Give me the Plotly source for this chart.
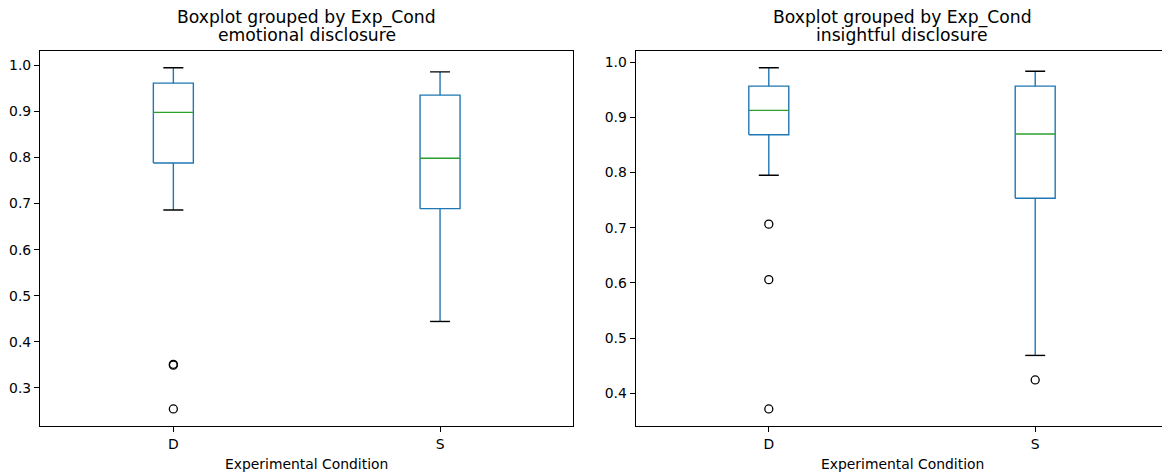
import plotly.graph_objects as go

# ---- data ----
categories = ["D", "S"]

emo_q1 = [0.788, 0.689]
emo_median = [0.898, 0.7985]
emo_q3 = [0.9615, 0.9355]
emo_low = [0.686, 0.444]
emo_high = [0.995, 0.986]
emo_outliers = [[0.351, 0.349, 0.254], []]

ins_q1 = [0.8687, 0.7535]
ins_median = [0.9128, 0.870]
ins_q3 = [0.9567, 0.9567]
ins_low = [0.7953, 0.4687]
ins_high = [0.990, 0.9837]
ins_outliers = [[0.7066, 0.606, 0.3717], [0.4243]]

panel_titles = ["emotional disclosure", "insightful disclosure"]
suptitle = "Boxplot grouped by Exp_Cond"
xlabel = "Experimental Condition"

# ---- style ----
W, H = 1162, 476
FONT = "DejaVu Sans"
BLUE = "#1f77b4"
GREEN = "#2ca02c"
BLACK = "#000000"
BOX_HALF = 0.075
CAP_HALF = 0.0375
LW = 1.4

fig = go.Figure()


def add_panel(xa, ya, q1, med, q3, lo, hi, outs):
    bx, by, wx, wy, cx, cy, mx, my, ox, oy = ([] for _ in range(10))
    for i, _ in enumerate(categories):
        p = i + 1
        bx += [p - BOX_HALF, p + BOX_HALF, p + BOX_HALF, p - BOX_HALF, p - BOX_HALF, None]
        by += [q1[i], q1[i], q3[i], q3[i], q1[i], None]
        wx += [p, p, None, p, p, None]
        wy += [q1[i], lo[i], None, q3[i], hi[i], None]
        cx += [p - CAP_HALF, p + CAP_HALF, None, p - CAP_HALF, p + CAP_HALF, None]
        cy += [lo[i], lo[i], None, hi[i], hi[i], None]
        mx += [p - BOX_HALF, p + BOX_HALF, None]
        my += [med[i], med[i], None]
        for v in outs[i]:
            ox.append(p)
            oy.append(v)
    common = dict(xaxis=xa, yaxis=ya, showlegend=False, hoverinfo="skip")
    fig.add_trace(go.Scatter(x=wx, y=wy, mode="lines", line=dict(color=BLUE, width=LW), **common))
    fig.add_trace(go.Scatter(x=bx, y=by, mode="lines", line=dict(color=BLUE, width=LW), **common))
    fig.add_trace(go.Scatter(x=cx, y=cy, mode="lines", line=dict(color=BLACK, width=LW), **common))
    fig.add_trace(go.Scatter(x=mx, y=my, mode="lines", line=dict(color=GREEN, width=LW), **common))
    fig.add_trace(go.Scatter(x=ox, y=oy, mode="markers",
                             marker=dict(symbol="circle-open", size=8, color=BLACK,
                                         line=dict(color=BLACK, width=1.3)), **common))


add_panel("x", "y", emo_q1, emo_median, emo_q3, emo_low, emo_high, emo_outliers)
add_panel("x2", "y2", ins_q1, ins_median, ins_q3, ins_low, ins_high, ins_outliers)

# geometry in pixels
L1, R1 = 40.0, 573.4
L2 = 635.6
px_per_unit2 = 266.4
TOP, BOT = 50.7, 426.0
ydom = [1 - BOT / H, 1 - TOP / H]

tickfont = dict(family=FONT, size=13.9, color="#000000")
axcommon = dict(showgrid=False, zeroline=False, showline=True, linecolor=BLACK, linewidth=1.1,
                ticks="outside", ticklen=5, tickwidth=1.1, tickcolor=BLACK, tickfont=tickfont)

fig.update_layout(
    width=W, height=H,
    margin=dict(l=0, r=0, t=0, b=0),
    paper_bgcolor="white", plot_bgcolor="white",
    font=dict(family=FONT, size=13.9, color="#000000"),
    xaxis=dict(domain=[L1 / W, R1 / W], range=[0.5, 2.5], tickvals=[1, 2], ticktext=categories,
               mirror=True, anchor="y", **axcommon),
    yaxis=dict(domain=ydom, range=[0.217, 1.032], tickvals=[0.3, 0.4, 0.5, 0.6, 0.7, 0.8, 0.9, 1.0],
               tickformat=".1f", mirror=True, anchor="x", **axcommon),
    xaxis2=dict(domain=[L2 / W, 1.0], range=[0.5, 0.5 + (W - L2) / px_per_unit2], tickvals=[1, 2],
                ticktext=categories, mirror=True, anchor="y2", **axcommon),
    yaxis2=dict(domain=ydom, range=[0.3408, 1.0209], tickvals=[0.4, 0.5, 0.6, 0.7, 0.8, 0.9, 1.0],
                tickformat=".1f", mirror=False, anchor="x2", **axcommon),
)

centers = [(L1 + R1) / 2, L2 + px_per_unit2]  # centre of each axes (right one partly clipped)
titlefont = dict(family=FONT, size=17.2, color="#000000")
for cxp, t in zip(centers, panel_titles):
    fig.add_annotation(x=cxp / W, y=1 - 18 / H, xref="paper", yref="paper", text=suptitle,
                       showarrow=False, font=titlefont, xanchor="center", yanchor="middle")
    fig.add_annotation(x=cxp / W, y=1 - 35 / H, xref="paper", yref="paper", text=t,
                       showarrow=False, font=titlefont, xanchor="center", yanchor="middle")
    fig.add_annotation(x=cxp / W, y=1 - 463.5 / H, xref="paper", yref="paper", text=xlabel,
                       showarrow=False, font=dict(family=FONT, size=13.9, color="#000000"),
                       xanchor="center", yanchor="middle")

fig.write_html("out.html", config={"displayModeBar": False},
               post_script="document.body.style.margin='0';document.body.style.overflow='hidden';")
